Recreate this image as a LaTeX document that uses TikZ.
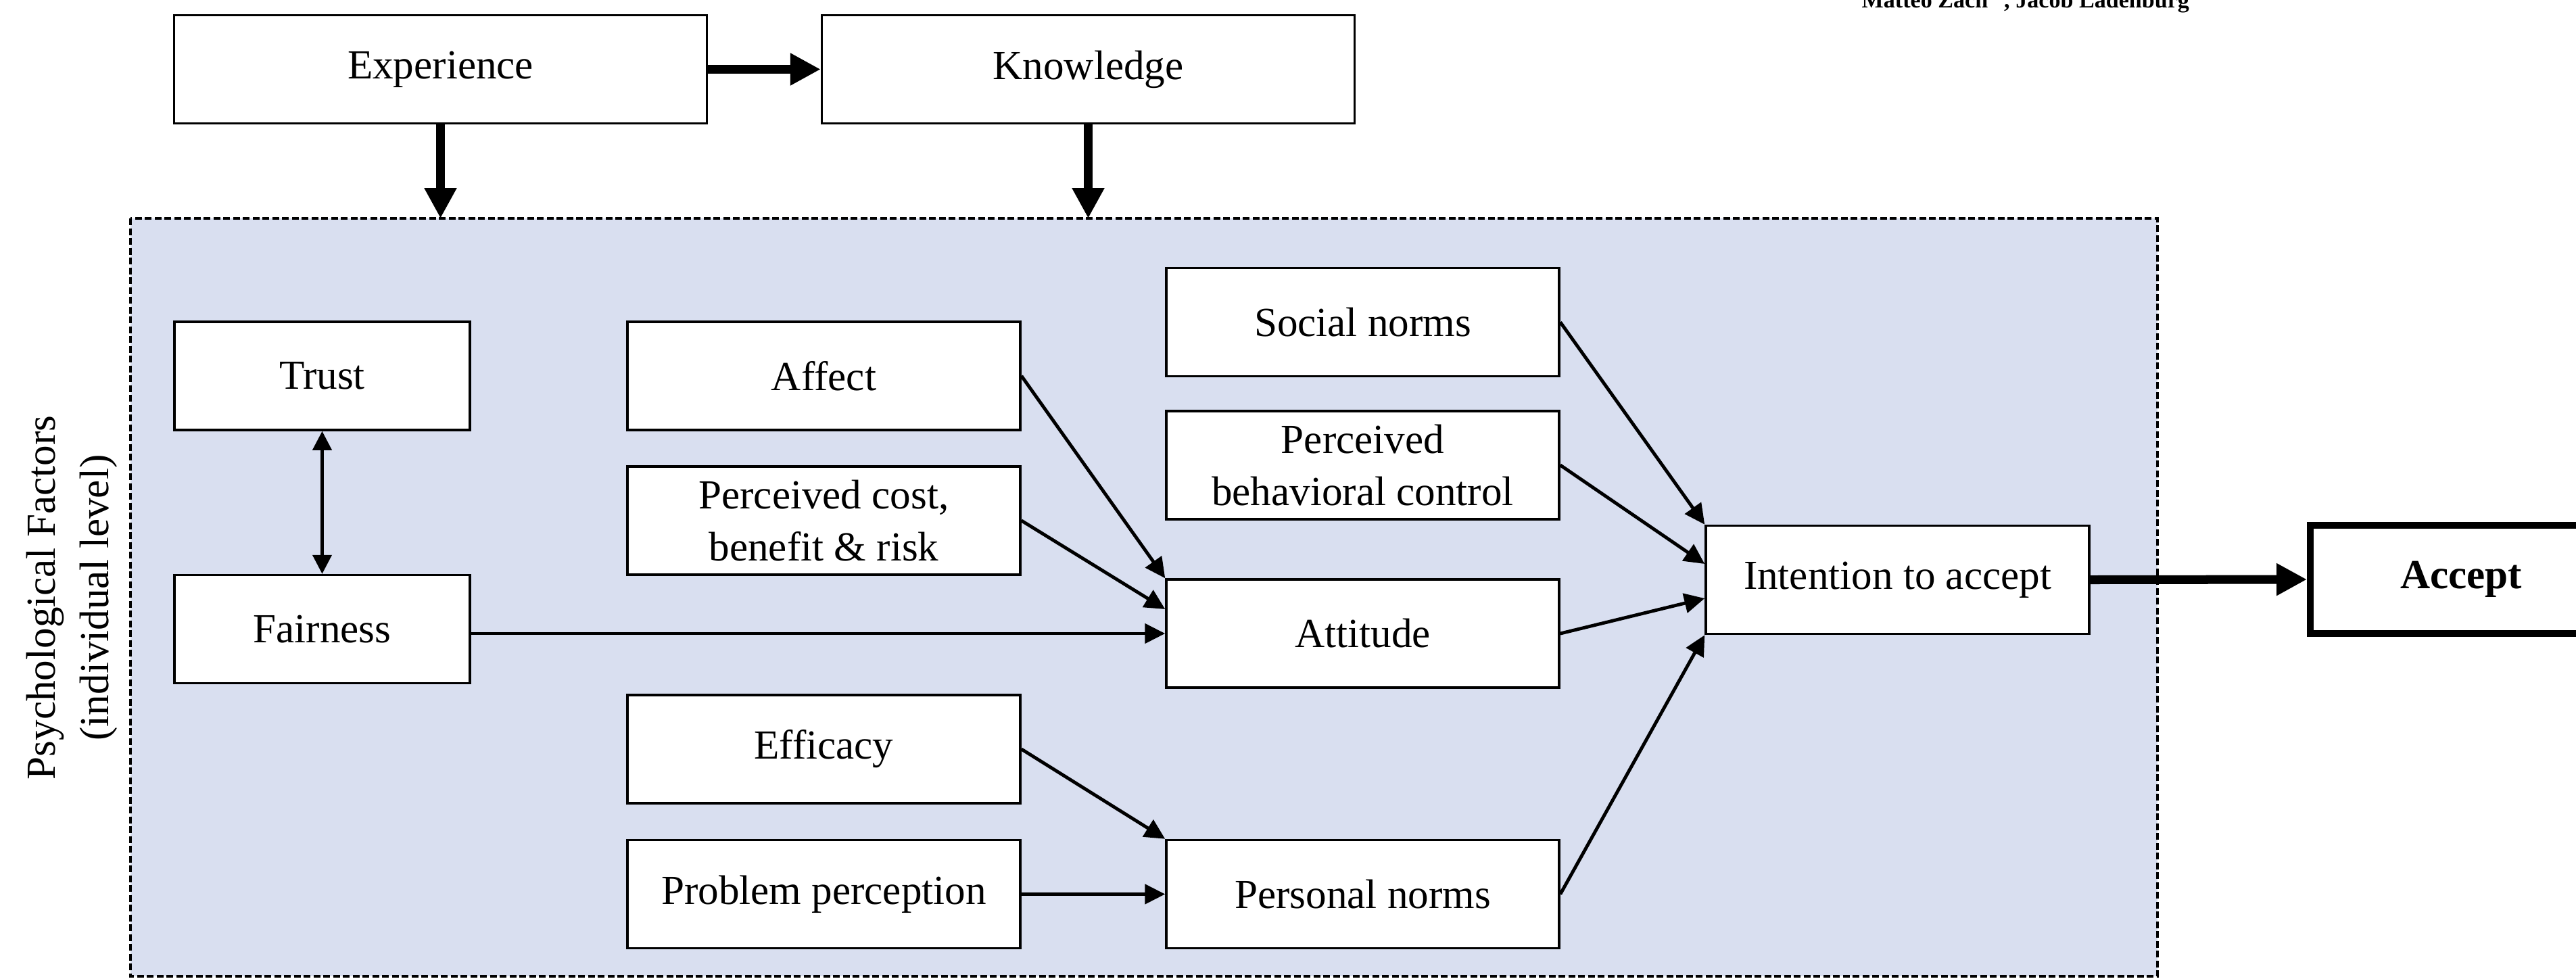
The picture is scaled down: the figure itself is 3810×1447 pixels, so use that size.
\documentclass[tikz,border=0pt]{standalone}
\usepackage{fontspec}
\setmainfont{Liberation Serif}
\usetikzlibrary{arrows.meta,calc}
\definecolor{panelblue}{RGB}{217,223,240}
\begin{document}
\begin{tikzpicture}[x=0.1mm,y=-0.1mm,
  bx/.style={draw=black, fill=white, line width=1pt, inner sep=0pt, align=center,
    font=\fontsize{17.4}{22}\selectfont, minimum height=16mm},
  wexp/.style={minimum width=78.8mm},
  wtr/.style={minimum width=43.7mm},
  wmid/.style={minimum width=58.1mm},
  wint/.style={minimum width=56.7mm},
  arr/.style={line width=1.4pt, -{Triangle[length=3mm,width=2.9mm]}},
  dblarr/.style={line width=1.2pt, {Triangle[length=2.8mm,width=2.8mm]}-{Triangle[length=2.8mm,width=2.8mm]}},
  bigarr/.style={line width=3.7pt, -{Triangle[length=4.5mm,width=4.5mm]}},
  lbl/.style={font=\fontsize{17.4}{22.5}\selectfont, align=center, inner sep=0pt}
]
\clip (0,0) rectangle (3810,1447);
\fill[white] (0,0) rectangle (3810,1447);

% author line (cut off at top, as in the reference)
\node[anchor=base west, inner sep=0pt, font=\fontsize{9.7}{12}\selectfont\bfseries] (auth) at (2753,11)
  {Matteo Zach\hspace{2.4mm}, Jacob Ladenburg};

% panel
\draw[fill=panelblue, line width=1.1pt, dash pattern=on 1mm off 0.45mm] (193,323) rectangle (3191,1444);
\coordinate (ptop) at (193,323);

% side label
\node[lbl, rotate=90] (side) at (106,884) {Psychological Factors\\(individual level)};

% top boxes
\node[bx, wexp] (exp) at (651.5,102.5) {Experience};
\node[bx, wexp] (know) at (1609.5,102.5) {Knowledge};

% inner boxes
\node[bx, wtr] (trust) at (476.5,556) {Trust};
\node[bx, wtr] (fair) at (476.5,930.5) {Fairness};
\node[bx, wmid] (affect) at (1218.5,556) {Affect};
\node[bx, wmid] (cost) at (1218.5,770) {Perceived cost,\\benefit \& risk};
\node[bx, wmid] (eff) at (1218.5,1108) {Efficacy};
\node[bx, wmid] (prob) at (1218.5,1322.5) {Problem perception};
\node[bx, wmid] (social) at (2015.5,476.5) {Social norms};
\node[bx, wmid] (pbc) at (2015.5,688) {Perceived\\behavioral control};
\node[bx, wmid] (att) at (2015.5,937) {Attitude};
\node[bx, wmid] (pers) at (2015.5,1322.5) {Personal norms};
\node[bx, wint] (int) at (2806.5,857.5) {Intention to accept};
\node[bx, line width=2.85pt, minimum width=44.6mm] (acc) at (3640,857) {\textbf{Accept}};

% connectors
\draw[bigarr] (exp.east) -- (know.west);
\draw[bigarr] (exp.south) -- (exp.south |- ptop);
\draw[bigarr] (know.south) -- (know.south |- ptop);
\draw[dblarr] (trust.south) -- (fair.north);
\draw[arr] (fair.east |- att.west) -- (att.west);
\draw[arr] (affect.east) -- (att.north west);
\draw[arr] (cost.east) -- ($(att.west)+(0,-36)$);
\draw[arr] (eff.east) -- (pers.north west);
\draw[arr] (prob.east) -- (pers.west);
\draw[arr] (social.east) -- (int.north west);
\draw[arr] (pbc.east) -- ($(int.west)+(0,-23.5)$);
\draw[arr] (att.east) -- ($(int.west)+(0,27.5)$);
\draw[arr] (pers.east) -- (int.south west);
\draw[bigarr] (int.east) -- (acc.west);
\end{tikzpicture}
\end{document}
